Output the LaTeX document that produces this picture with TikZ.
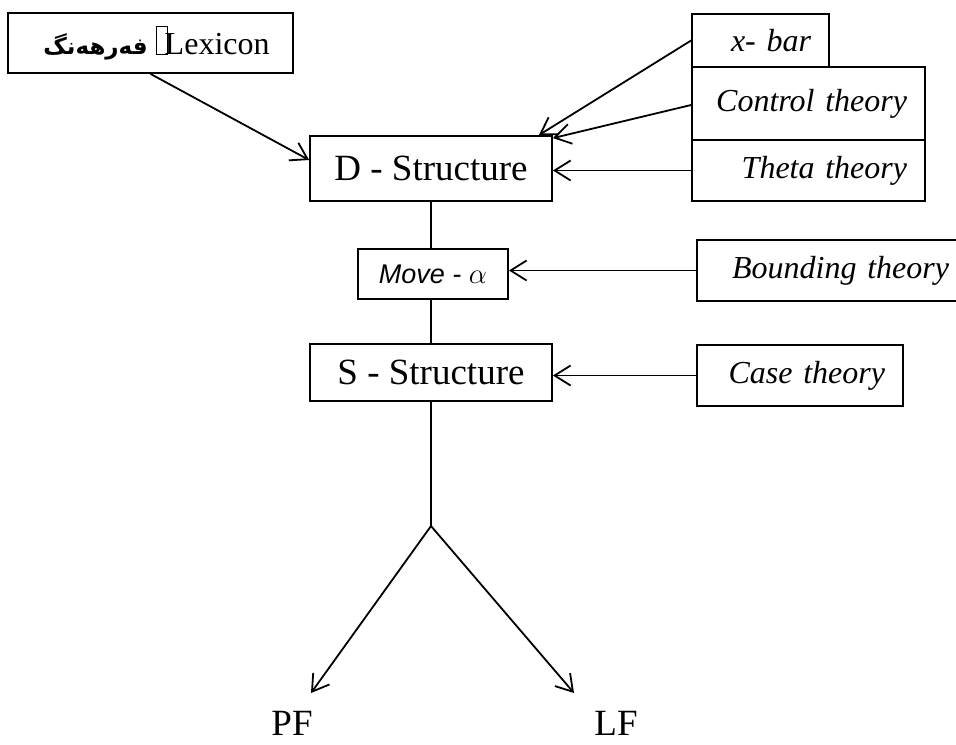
\documentclass[tikz,border=0pt]{standalone}
\usepackage{fontspec}
\setmainfont{Liberation Serif}
\newfontfamily\arabicfont[Script=Arabic]{DejaVu Sans}
\newfontfamily\arialfont{Liberation Sans}
\TeXXeTstate=1
\usetikzlibrary{arrows.meta}

\begin{document}
\begin{tikzpicture}[x=0.5pt, y=-0.5pt, line width=0.9pt,
    box/.style={draw, rectangle, inner sep=0pt},
    theory/.style={draw, rectangle, inner ysep=0pt, inner xsep=9pt, align=right,
      font=\fontsize{16}{18}\selectfont\itshape},
    arr/.style={-{Straight Barb[length=8pt,width=10pt]}}]
  \useasboundingbox (0,0) rectangle (956,744);

  % main column
  \node [box, minimum width=142.5pt, minimum height=30pt, font=\fontsize{16}{18}\selectfont](lexicon) at (150.5,43)
    {\hspace{6pt}{\arabicfont\bfseries\fontsize{11.5}{13}\selectfont\beginR فەرهەنگ\endR}\ {\fboxsep=0pt\fboxrule=0.5pt\fbox{\rule{0pt}{13.5pt}\hspace{5pt}}}\kern-1.5pt Lexicon};
  \node [box, minimum width=121pt, minimum height=32.5pt, font=\fontsize{18.5}{21}\selectfont](dstruct) at (431,168.5) {D - Structure};
  \node [box, minimum width=75pt, minimum height=25pt, font=\fontsize{13.5}{16}\arialfont\itshape](move) at (433,274) {Move - $\alpha$};
  \node [box, minimum width=121pt, minimum height=28.5pt, font=\fontsize{18.5}{21}\selectfont](sstruct) at (431,372.5) {S - Structure};

  % theories on the right
  \node [theory, text width=50.5pt, minimum height=26.5pt](xbar) at (760.5,40.5) {x- bar};
  \node [theory, text width=98.5pt, minimum height=36.5pt](control) at (808.5,103.5) {Control theory};
  \node [theory, text width=98.5pt, minimum height=30.5pt](theta) at (808.5,170.5) {Theta theory};
  \node [theory, text width=117pt, minimum height=30.5pt](bounding) at (832,270.5) {Bounding theory};
  \node [theory, text width=85pt, minimum height=30.5pt](case) at (800,375.5) {Case theory};

  % PF and LF
  \node [inner sep=0pt, font=\fontsize{18.5}{21}\selectfont](pf) at (292,723) {PF};
  \node [inner sep=0pt, font=\fontsize{18.5}{21}\selectfont](lf) at (616,723) {LF};
  \coordinate (fork) at (431,526);
  \coordinate (pftip) at (311,693);
  \coordinate (lftip) at (574,693);

  % connectors
  \draw [arr] (lexicon.south) -- ([yshift=4.25pt]dstruct.west);
  \draw [arr] (xbar.west) -- ([xshift=-7pt]dstruct.north east);
  \draw [arr] ([yshift=-0.75pt]control.west) -- ([yshift=-1.5pt]dstruct.north east);
  \draw [arr] (theta.west) -- (theta.west -| dstruct.east);
  \draw [arr] (bounding.west) -- (bounding.west -| move.east);
  \draw [arr] (case.west) -- (case.west -| sstruct.east);

  \draw (dstruct.south) -- (dstruct.south |- move.north);
  \draw (move.south -| sstruct.north) -- (sstruct.north);
  \draw (sstruct.south) -- (fork);
  \draw [arr] (fork) -- (pftip);
  \draw [arr] (fork) -- (lftip);
\end{tikzpicture}
\end{document}
